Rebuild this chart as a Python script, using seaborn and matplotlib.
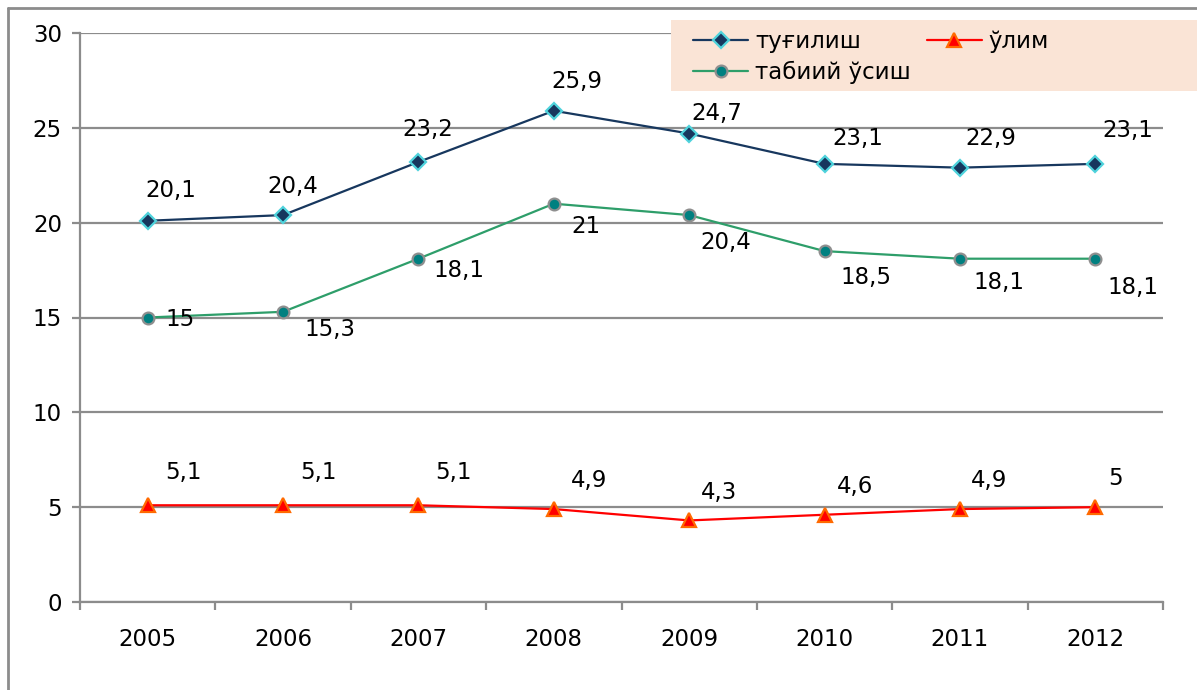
import numpy as np
import pandas as pd
import matplotlib
matplotlib.use("Agg")
import matplotlib.pyplot as plt
from matplotlib.patches import Rectangle
from matplotlib.lines import Line2D
import seaborn as sns

years = ['2005', '2006', '2007', '2008', '2009', '2010', '2011', '2012']
birth = [20.1, 20.4, 23.2, 25.9, 24.7, 23.1, 22.9, 23.1]
death = [5.1, 5.1, 5.1, 4.9, 4.3, 4.6, 4.9, 5.0]
natural = [15, 15.3, 18.1, 21, 20.4, 18.5, 18.1, 18.1]
names = ['туғилиш', 'ўлим', 'табиий ўсиш']
yticks = [0, 5, 10, 15, 20, 25, 30]

# label offsets in pixels (dx, dy up)
birth_off = [(23, 30), (10, 29), (9, 32), (23, 29), (28, 20), (33, 25), (31, 29), (32, 33)]
natural_off = [(32, -2), (47, -18), (40, -12), (32, -23), (37, -27), (41, -26), (39, -24), (38, -29)]
death_off = [(36, 33), (35, 33), (35, 33), (35, 29), (30, 28), (31, 28), (29, 29), (20, 29)]

sns.set_theme(style="white")
plt.rcParams['font.family'] = ['DejaVu Sans']
plt.rcParams['text.color'] = 'black'
plt.rcParams['xtick.labelcolor'] = 'black'
plt.rcParams['ytick.labelcolor'] = 'black'

W, H = 1197, 690
fig = plt.figure(figsize=(W / 100, H / 100), dpi=100)
ax = fig.add_axes([80 / W, (H - 602) / H, (1163 - 80) / W, (602 - 33) / H])

x = np.arange(len(years))
grid_c = '#8c8c8c'
for v in yticks:
    ax.axhline(v, color=grid_c, lw=1.6, zorder=1)

sns.lineplot(x=x, y=birth, ax=ax, color='#17375E', lw=1.6, marker='D', markersize=8,
             markerfacecolor='#17375E', markeredgecolor='#4FD3DC', markeredgewidth=1.6,
             legend=False, zorder=3)
sns.lineplot(x=x, y=death, ax=ax, color='#FF0000', lw=1.6, marker='^', markersize=10,
             markerfacecolor='#FF0000', markeredgecolor='#FF6A00', markeredgewidth=1.6,
             legend=False, zorder=3)
sns.lineplot(x=x, y=natural, ax=ax, color='#2E9E6A', lw=1.6, marker='o', markersize=8.5,
             markerfacecolor='#008080', markeredgecolor='#8f8f8f', markeredgewidth=1.6,
             legend=False, zorder=3)

def fmt(v):
    s = ('%g' % v)
    return s.replace('.', ',')

fs = 16.5
for vals, offs in [(birth, birth_off), (natural, natural_off), (death, death_off)]:
    for i, (v, (dx, dy)) in enumerate(zip(vals, offs)):
        ax.annotate(fmt(v), (i, v), xytext=(dx, dy), textcoords='offset pixels',
                    ha='center', va='center', fontsize=fs, color='black', zorder=5)

ax.set_xlim(-0.5, len(years) - 0.5)
ax.set_ylim(0, 30)
ax.set_yticks(yticks)
ax.set_yticklabels([str(v) for v in yticks], fontsize=fs, color='black')
ax.set_xticks(x)
ax.set_xticklabels(years, fontsize=fs, color='black')
ax.set_xticks(np.arange(len(years) + 1) - 0.5, minor=True)
ax.tick_params(axis='x', which='major', length=0, pad=19)
ax.tick_params(axis='x', which='minor', length=6, width=1.6, color=grid_c, direction='out', bottom=True)
ax.tick_params(axis='y', which='major', length=6, width=1.6, color=grid_c, direction='out', left=True, pad=7)
for s in ['top', 'right']:
    ax.spines[s].set_visible(False)
for s in ['left', 'bottom']:
    ax.spines[s].set_color(grid_c)
    ax.spines[s].set_linewidth(1.6)
    ax.spines[s].set_zorder(2)
ax.set_xlabel('')
ax.set_ylabel('')

# outer frame (left and top edges visible)
fig.add_artist(Line2D([8 / W, 8 / W], [0, (H - 8) / H], color='#8c8c8c', lw=2, transform=fig.transFigure))
fig.add_artist(Line2D([8 / W, 1], [(H - 8) / H, (H - 8) / H], color='#8c8c8c', lw=2, transform=fig.transFigure))

# legend background
fig.add_artist(Rectangle((671 / W, (H - 91) / H), (W - 671) / W, 71 / H, transform=fig.transFigure,
                         facecolor='#FAE4D6', edgecolor='none', zorder=4))
lines = [h for h in ax.get_lines() if h.get_marker() in ('D', '^', 'o')]
h_birth, h_death, h_nat = lines
leg = fig.legend([h_birth, h_nat, h_death], [names[0], names[2], names[1]], loc='upper left',
                 bbox_to_anchor=(684 / W, (H - 21) / H),
                 ncol=2, frameon=False, fontsize=fs, handlelength=2.4, handletextpad=0.3,
                 columnspacing=0.7, labelspacing=0.35, borderaxespad=0, labelcolor='black')
leg.set_zorder(5)

fig.savefig('out.png', dpi=100)
